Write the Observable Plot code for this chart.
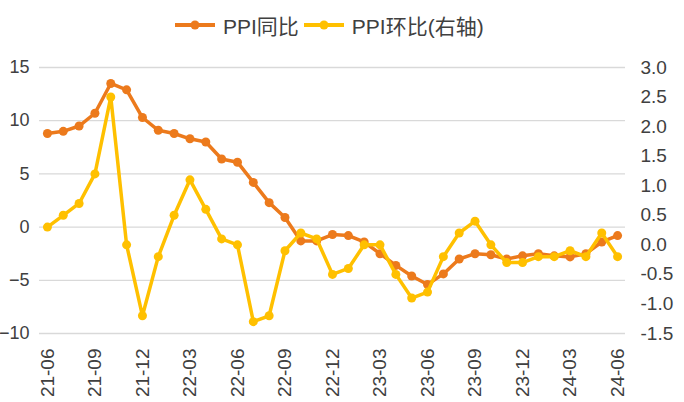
<!DOCTYPE html>
<html>
<head>
<meta charset="utf-8">
<script src="https://cdn.jsdelivr.net/npm/d3@7"></script>
<script src="https://cdn.jsdelivr.net/npm/@observablehq/plot@0.6"></script>
<style>
  html, body { margin: 0; padding: 0; background: #fff; }
  body { width: 684px; height: 402px; overflow: hidden; font-family: "Liberation Sans", Arial, "Noto Sans CJK SC", sans-serif; }
  #legend { height: 45px; display: flex; justify-content: flex-start; align-items: center; padding-left: 175px; padding-top: 4px; box-sizing: border-box; color: #404040; font-size: 21px; }
  .item { display: flex; align-items: center; margin-right: 5px; }
  .item svg { margin-right: 8px; }
  #chart svg { display: block; overflow: visible; }
</style>
</head>
<body>
<div id="legend"></div>
<div id="chart"></div>
<script>
const months = ["21-06","21-07","21-08","21-09","21-10","21-11","21-12",
  "22-01","22-02","22-03","22-04","22-05","22-06","22-07","22-08","22-09","22-10","22-11","22-12",
  "23-01","23-02","23-03","23-04","23-05","23-06","23-07","23-08","23-09","23-10","23-11","23-12",
  "24-01","24-02","24-03","24-04","24-05","24-06"];
const ppiYoY = [8.8,9.0,9.5,10.7,13.5,12.9,10.3,
  9.1,8.8,8.3,8.0,6.4,6.1,4.2,2.3,0.9,-1.3,-1.3,-0.7,
  -0.8,-1.4,-2.5,-3.6,-4.6,-5.4,-4.4,-3.0,-2.5,-2.6,-3.0,-2.7,
  -2.5,-2.7,-2.8,-2.5,-1.4,-0.8];
const ppiMoM = [0.3,0.5,0.7,1.2,2.5,0.0,-1.2,
  -0.2,0.5,1.1,0.6,0.1,0.0,-1.3,-1.2,-0.1,0.2,0.1,-0.5,
  -0.4,0.0,0.0,-0.5,-0.9,-0.8,-0.2,0.2,0.4,0.0,-0.3,-0.3,
  -0.2,-0.2,-0.1,-0.2,0.2,-0.2];
const xTickLabels = ["21-06","21-09","21-12","22-03","22-06","22-09","22-12","23-03","23-06","23-09","23-12","24-03","24-06"];
const leftTicks = [-10,-5,0,5,10,15];
const rightTicks = [-1.5,-1.0,-0.5,0.0,0.5,1.0,1.5,2.0,2.5,3.0];
const seriesNames = ["PPI同比","PPI环比(右轴)"];
const colors = ["#EC7A1C","#FFC000"];

// right axis domain [-1.5, 3.0] mapped onto left axis domain [-10, 15]
const leftDomain = [-10, 15], rightDomain = [-1.5, 3.0];
const toLeft = v => leftDomain[0] + (v - rightDomain[0]) * (leftDomain[1] - leftDomain[0]) / (rightDomain[1] - rightDomain[0]);
const fromLeft = v => rightDomain[0] + (v - leftDomain[0]) * (rightDomain[1] - rightDomain[0]) / (leftDomain[1] - leftDomain[0]);

const data = months.map((m, i) => ({month: m, yoy: ppiYoY[i], mom: ppiMoM[i]}));

// legend
const legend = document.getElementById("legend");
seriesNames.forEach((name, i) => {
  const it = document.createElement("div");
  it.className = "item";
  it.innerHTML = `<svg width="40" height="12"><line x1="0" x2="40" y1="6" y2="6" stroke="${colors[i]}" stroke-width="4"/><circle cx="20" cy="6" r="4.5" fill="${colors[i]}"/></svg><span>${name}</span>`;
  legend.appendChild(it);
});

const font = "Liberation Sans, Arial, Noto Sans CJK SC, sans-serif";
const chart = Plot.plot({
  width: 684,
  height: 357,
  marginTop: 22,
  marginBottom: 69,
  marginLeft: 39,
  marginRight: 59,
  style: {fontFamily: font, fontSize: "19px", color: "#404040", background: "#fff", overflow: "visible"},
  x: {type: "point", domain: months, padding: 0.5, axis: null},
  y: {domain: leftDomain, axis: null},
  marks: [
    Plot.gridY(leftTicks, {stroke: "#d9d9d9", strokeOpacity: 1, strokeWidth: 1.3}),
    Plot.axisY({anchor: "left", ticks: leftTicks, tickSize: 0, tickPadding: 10, fontSize: 18, fill: "#404040", label: null}),
    Plot.axisY({anchor: "right", ticks: rightTicks.map(toLeft), tickSize: 0, tickPadding: 15, fontSize: 19, fill: "#404040", label: null,
      tickFormat: d => fromLeft(d).toFixed(1)}),
    Plot.axisX({ticks: xTickLabels, tickRotate: -90, tickSize: 0, tickPadding: 15, fontSize: 19, fill: "#404040", label: null}),
    Plot.line(data, {x: "month", y: "yoy", stroke: colors[0], strokeWidth: 3.5}),
    Plot.dot(data, {x: "month", y: "yoy", r: 4.5, fill: colors[0], stroke: "none"}),
    Plot.line(data, {x: "month", y: d => toLeft(d.mom), stroke: colors[1], strokeWidth: 3.5}),
    Plot.dot(data, {x: "month", y: d => toLeft(d.mom), r: 4.5, fill: colors[1], stroke: "none"})
  ]
});
document.getElementById("chart").appendChild(chart);
</script>
</body>
</html>
